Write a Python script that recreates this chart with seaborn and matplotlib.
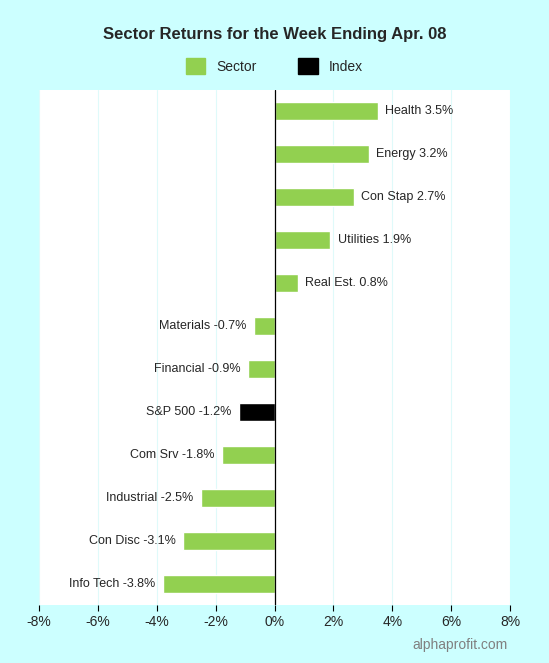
import matplotlib.pyplot as plt
import seaborn as sns
import pandas as pd
from matplotlib.patches import Patch

sectors = ["Health", "Energy", "Con Stap", "Utilities", "Real Est.", "Materials",
           "Financial", "S&P 500", "Com Srv", "Industrial", "Con Disc", "Info Tech"]
returns = [3.5, 3.2, 2.7, 1.9, 0.8, -0.7, -0.9, -1.2, -1.8, -2.5, -3.1, -3.8]
kinds = ["Sector"] * 7 + ["Index"] + ["Sector"] * 4
ticks = [-8, -6, -4, -2, 0, 2, 4, 6, 8]

green = "#92d050"
bg = "#ccffff"

df = pd.DataFrame({"sector": sectors, "ret": returns, "kind": kinds})

sns.set_style("white")
plt.rcParams["font.family"] = ["Liberation Sans", "DejaVu Sans"]

fig = plt.figure(figsize=(5.49, 6.63), dpi=100, facecolor=bg)
ax = fig.add_axes([39 / 549, 1 - 605 / 663, 471 / 549, 515 / 663])
ax.set_facecolor("white")

colors = [green if k == "Sector" else "black" for k in kinds]
sns.barplot(data=df, x="ret", y="sector", hue="sector", palette=colors,
            legend=False, width=0.42, orient="h", ax=ax, saturation=1)

for i, (s, v) in enumerate(zip(sectors, returns)):
    if v >= 0:
        ax.text(v + 0.25, i, f"{s} {v:.1f}%", va="center", ha="left", fontsize=9)
    else:
        ax.text(v - 0.25, i, f"{s} {v:.1f}%", va="center", ha="right", fontsize=9)

ax.set_xlim(-8, 8)
ax.set_ylim(11.5, -0.5)
ax.set_xticks(ticks)
ax.set_xticklabels([f"{t}%" for t in ticks], fontsize=10)
ax.set_yticks([])
ax.set_xlabel("")
ax.set_ylabel("")
for t in ticks:
    if t != 0:
        ax.axvline(t, color="#dffafa", lw=0.8, zorder=0)
ax.axvline(0, color="black", lw=0.9)
for sp in ax.spines.values():
    sp.set_visible(False)
ax.tick_params(axis="x", length=4, color="black", bottom=True)

fig.text(0.5, 1 - 35 / 663, "Sector Returns for the Week Ending Apr. 08",
         ha="center", va="center", fontsize=12, fontweight="bold")
handles = [Patch(color=green, label="Sector"), Patch(color="black", label="Index")]
fig.legend(handles=handles, loc="center", bbox_to_anchor=(0.5, 1 - 66 / 663),
           ncol=2, frameon=False, fontsize=10, handlelength=1.4, handleheight=1.4,
           columnspacing=3)
fig.text(508 / 549, 1 - 645 / 663, "alphaprofit.com", ha="right", va="center",
         fontsize=10, color="#808080")

fig.savefig("out.png", dpi=100, facecolor=bg)
